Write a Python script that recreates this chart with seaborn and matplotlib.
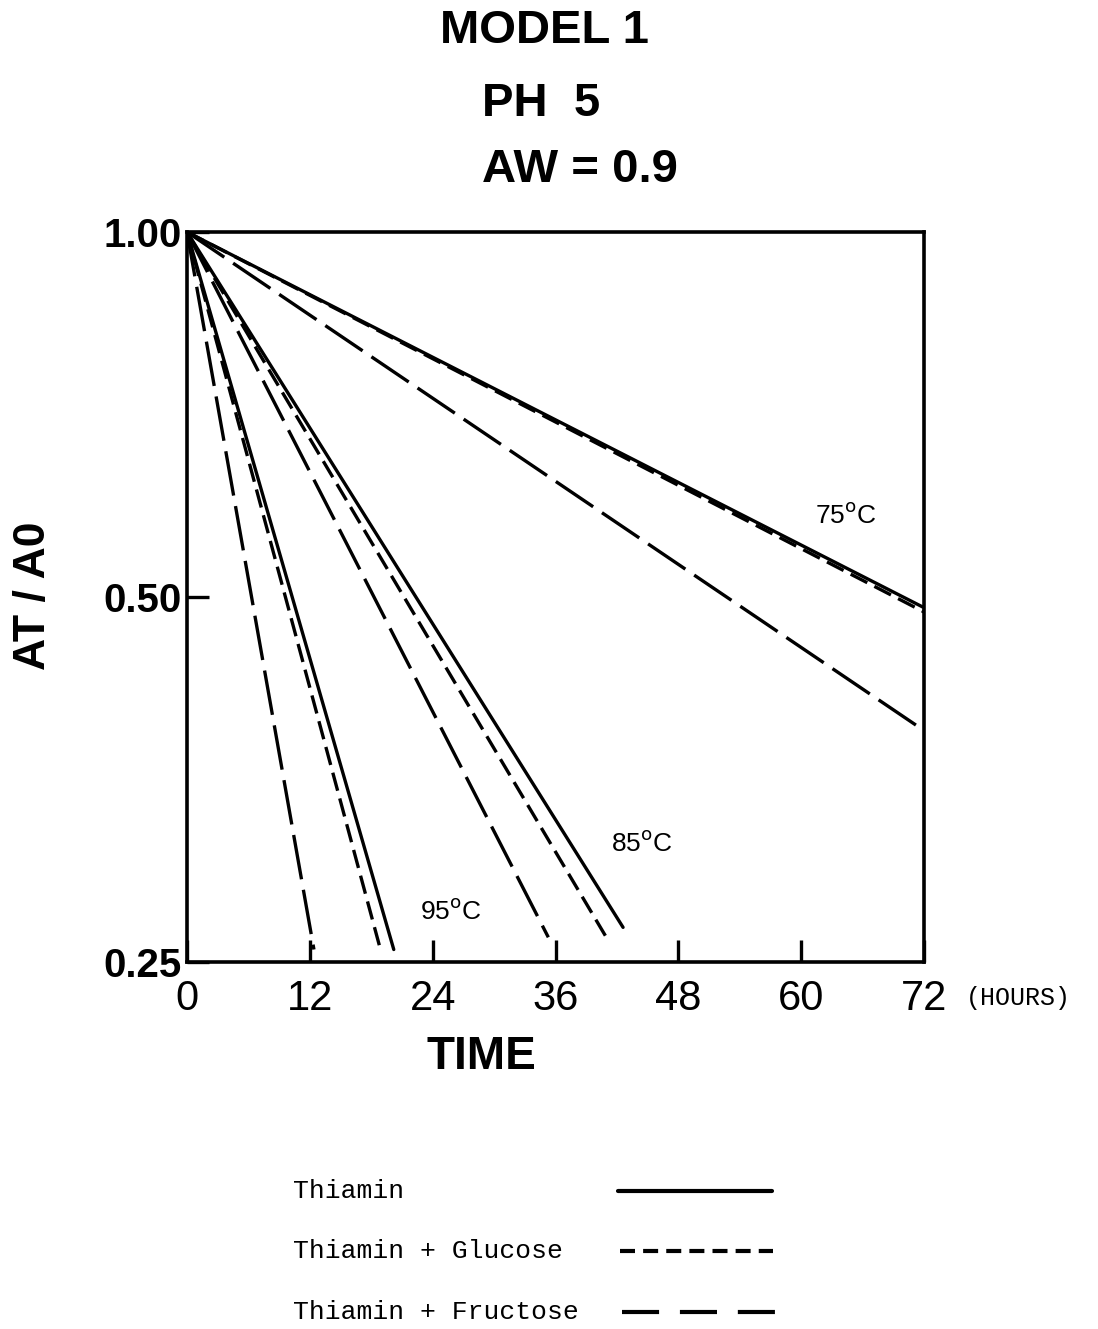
import numpy as np
import pandas as pd
import matplotlib
matplotlib.use("Agg")
import matplotlib.pyplot as plt
import seaborn as sns
from matplotlib.lines import Line2D
from matplotlib.ticker import NullLocator

# ---------------- data ----------------
temperatures = ["75", "85", "95"]
solutions = ["Thiamin", "Thiamin + Glucose", "Thiamin + Fructose"]
start_time = 0.0
start_ratio = 1.00
# end points of each first-order decay line (order of `solutions`)
end_time_75 = [72.0, 72.0, 72.0]
end_ratio_75 = [0.490, 0.486, 0.388]
end_time_85 = [42.6, 41.2, 35.3]
end_ratio_85 = [0.267, 0.260, 0.262]
end_time_95 = [20.2, 18.9, 12.4]
end_ratio_95 = [0.256, 0.256, 0.256]

x_ticks = [0, 12, 24, 36, 48, 60, 72]
y_ticks = [0.25, 0.50, 1.00]
y_tick_labels = ["0.25", "0.50", "1.00"]
temp_label_x = [64.4, 44.4, 25.8]
temp_label_y = [0.584, 0.313, 0.275]

ends = {
    "75": (end_time_75, end_ratio_75),
    "85": (end_time_85, end_ratio_85),
    "95": (end_time_95, end_ratio_95),
}
rows = []
for temp in temperatures:
    et, er = ends[temp]
    for sol, t_end, r_end in zip(solutions, et, er):
        rows.append({"temp": temp, "solution": sol, "time": start_time, "ratio": start_ratio})
        rows.append({"temp": temp, "solution": sol, "time": t_end, "ratio": r_end})
df = pd.DataFrame(rows)

# ---------------- style ----------------
sns.set_theme(style="ticks")
plt.rcParams["font.family"] = ["Liberation Sans", "DejaVu Sans"]
plt.rcParams["mathtext.fontset"] = "dejavusans"
plt.rcParams["text.color"] = "black"
plt.rcParams["axes.labelcolor"] = "black"
plt.rcParams["xtick.color"] = "black"
plt.rcParams["ytick.color"] = "black"

fig = plt.figure(figsize=(10.98, 13.29), dpi=100)
W, H = 1098.0, 1329.0
ax = fig.add_axes([187 / W, 1 - 962 / H, (924 - 187) / W, (962 - 232) / H])

line_w = 2.4
dash_map = {
    "Thiamin": "",
    "Thiamin + Glucose": (5.6, 2.4),
    "Thiamin + Fructose": (13.5, 3.2),
}
sns.lineplot(data=df, x="time", y="ratio", style="solution", units="temp",
             estimator=None, sort=False, color="black", dashes=dash_map,
             style_order=solutions, lw=line_w, legend=False, ax=ax)

ax.set_yscale("log", base=2)
ax.set_xlim(0, 72)
ax.set_ylim(0.25, 1.00)
ax.set_xticks(x_ticks, labels=[str(v) for v in x_ticks])
ax.set_yticks(y_ticks, labels=y_tick_labels)
ax.yaxis.set_minor_locator(NullLocator())
ax.xaxis.set_minor_locator(NullLocator())
ax.set_xlabel("")
ax.set_ylabel("")

for s in ax.spines.values():
    s.set_visible(True)
    s.set_color("black")
    s.set_linewidth(2.6)

ax.tick_params(axis="both", which="major", direction="in", length=16, width=2.4,
               color="black", labelcolor="black", bottom=True, left=True,
               top=False, right=False)
ax.tick_params(axis="x", labelsize=30, pad=12)
ax.tick_params(axis="y", labelsize=29, pad=4)
for lab in ax.get_yticklabels():
    lab.set_fontweight("bold")

# temperature labels
for temp, tx, ty in zip(temperatures, temp_label_x, temp_label_y):
    ax.text(tx, ty, temp + r"$^{\rm o}$C", fontsize=19, ha="center", va="center",
            color="black")

# titles
def px(x, y):
    return x / W, 1 - y / H

fig.text(*px(440, 31), "MODEL 1", fontsize=34, fontweight="bold", ha="left", va="center", color="black")
fig.text(*px(482, 104), "PH  5", fontsize=34, fontweight="bold", ha="left", va="center", color="black")
fig.text(*px(482, 170), "AW = 0.9", fontsize=34, fontweight="bold", ha="left", va="center", color="black")

# axis labels
fig.text(*px(33, 596), "AT / A0", fontsize=32, fontweight="bold", rotation=90,
         ha="center", va="center", color="black")
fig.text(*px(481, 1057), "TIME", fontsize=33, fontweight="bold", ha="center", va="center", color="black")
fig.text(*px(966, 998), "(HOURS)", fontsize=18, family=["Liberation Mono", "DejaVu Sans Mono"],
         ha="left", va="center", color="black")

# legend key
key_y = [1191, 1251, 1312]
key_x0 = [618, 620, 622]
key_x1 = [772, 773, 775]
key_dashes = [None, (3.6, 1.95), (8.9, 5.0)]
for sol, ky, x0, x1, dsh in zip(solutions, key_y, key_x0, key_x1, key_dashes):
    fig.text(*px(293, ky), sol, fontsize=19, family=["Liberation Mono", "DejaVu Sans Mono"],
             ha="left", va="center", color="black")
    ln = Line2D([x0 / W, x1 / W], [1 - ky / H, 1 - ky / H], transform=fig.transFigure,
                color="black", lw=3.0)
    if dsh is not None:
        ln.set_dashes(dsh)
    fig.add_artist(ln)

fig.savefig("out.png", dpi=100, facecolor="white")
